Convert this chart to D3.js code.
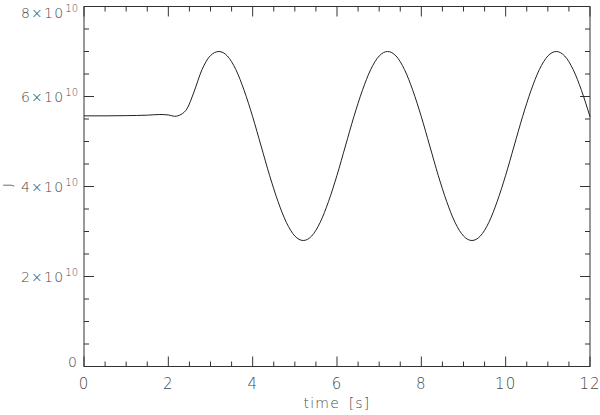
<!DOCTYPE html>
<html><head><meta charset="utf-8">
<script src="https://cdn.jsdelivr.net/npm/d3@7"></script>
<style>body{margin:0;background:#fff}svg{display:block}</style>
</head><body>
<svg id="c" width="600" height="415"></svg>
<script>
const times = [0,0.5,1.0,1.5,1.8,2.0,2.15,2.3,2.45,2.6,2.8,3.0,
  3.2,3.4,3.6,3.8,4.0,4.2,4.4,4.6,4.8,5.0,5.2,5.4,5.6,5.8,6.0,6.2,6.4,6.6,6.8,7.0,
  7.2,7.4,7.6,7.8,8.0,8.2,8.4,8.6,8.8,9.0,9.2,9.4,9.6,9.8,10.0,10.2,10.4,10.6,10.8,11.0,
  11.2,11.4,11.6,11.8,12.0];
const jValues = [5.57,5.57,5.575,5.585,5.60,5.59,5.56,5.60,5.74,6.08,6.60,6.91,
  7.00,6.90,6.60,6.13,5.55,4.90,4.25,3.67,3.20,2.90,2.80,2.90,3.20,3.67,4.25,4.90,5.55,6.13,6.60,6.90,
  7.00,6.90,6.60,6.13,5.55,4.90,4.25,3.67,3.20,2.90,2.80,2.90,3.20,3.67,4.25,4.90,5.55,6.13,6.60,6.90,
  7.00,6.90,6.60,6.13,5.55]; // units of 1e10
const xMajor = [0,2,4,6,8,10,12];
const yMajor = [0,2,4,6,8]; // ×10^10
const xTitle = "time [s]";
const yTitle = "J";

const svg = d3.select("#c");
const x = d3.scaleLinear().domain([0,12]).range([84,590]);
const y = d3.scaleLinear().domain([0,8]).range([366.5,6.5]);
const axCol = "#333", txtCol = "#4a4a4a";

const g = svg.append("g");
g.append("rect").attr("x",x(0)).attr("y",y(8)).attr("width",x(12)-x(0)).attr("height",y(0)-y(8))
  .attr("fill","none").attr("stroke",axCol).attr("stroke-width",1);

const xMinor = d3.range(0,12.001,0.5);
const yMinor = d3.range(0,8.001,0.5);
xMinor.forEach(t=>{
  const major = Math.abs(t%2)<1e-9; const L = major?10:5;
  g.append("line").attr("x1",x(t)).attr("x2",x(t)).attr("y1",y(0)).attr("y2",y(0)-L).attr("stroke",axCol);
  g.append("line").attr("x1",x(t)).attr("x2",x(t)).attr("y1",y(8)).attr("y2",y(8)+L).attr("stroke",axCol);
});
yMinor.forEach(v=>{
  const major = Math.abs(v%2)<1e-9; const L = major?10:5;
  g.append("line").attr("x1",x(0)).attr("x2",x(0)+L).attr("y1",y(v)).attr("y2",y(v)).attr("stroke",axCol);
  g.append("line").attr("x1",x(12)).attr("x2",x(12)-L).attr("y1",y(v)).attr("y2",y(v)).attr("stroke",axCol);
});

const font = "'DejaVu Sans', 'Liberation Sans', sans-serif";
xMajor.forEach(t=>{
  svg.append("text").attr("x",x(t)).attr("y",389).attr("text-anchor","middle")
    .attr("font-family",font).attr("font-size",15).attr("font-weight",200).attr("letter-spacing",1).attr("fill",txtCol).text(t);
});
yMajor.forEach(v=>{
  const by = Math.min(Math.max(y(v)+5,18),367);
  const t = svg.append("text").attr("x",78).attr("y",by).attr("text-anchor","end")
    .attr("font-family",font).attr("font-size",14).attr("font-weight",200).attr("fill",txtCol);
  if(v===0){ t.attr("x",77).text("0"); }
  else {
    t.append("tspan").attr("letter-spacing",1.2).text(v+"×10");
    t.append("tspan").attr("dy",-6).attr("dx",1).attr("font-size",10).text("10");
  }
});
svg.append("text").attr("x",337).attr("y",408).attr("text-anchor","middle")
  .attr("font-family",font).attr("font-size",14).attr("font-weight",200).attr("letter-spacing",1.2).attr("word-spacing",3).attr("fill",txtCol).text(xTitle);
svg.append("text").attr("transform","translate(12,185) rotate(-90)").attr("text-anchor","middle")
  .attr("font-family",font).attr("font-size",13).attr("font-weight",200).attr("fill",txtCol).text(yTitle);

const line = d3.line().x((d,i)=>x(times[i])).y(d=>y(d)).curve(d3.curveMonotoneX);
svg.append("path").attr("d",line(jValues)).attr("fill","none").attr("stroke","#222").attr("stroke-width",1);
</script>
</body></html>
